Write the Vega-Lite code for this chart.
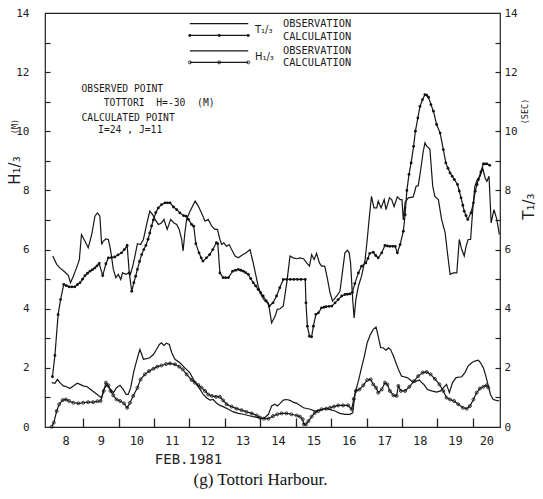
{
  "$schema": "https://vega.github.io/schema/vega-lite/v6.json",
  "width": 455,
  "height": 414,
  "autosize": {"type": "none"},
  "padding": {"left": 45, "top": 13, "right": 43, "bottom": 72},
  "background": "white",
  "view": {"stroke": "#222", "strokeWidth": 1.2},
  "config": {
    "axis": {"labelFont": "DejaVu Sans Mono", "labelColor": "#222", "tickColor": "#222", "titleColor": "#222", "grid": false, "domain": false, "titleFontWeight": "normal"}
  },
  "title": {"text": "(g) Tottori Harbour.", "orient": "bottom", "anchor": "middle", "frame": "group", "dx": -12, "offset": 6, "font": "Liberation Serif", "fontSize": 17, "fontWeight": "normal", "color": "#111"},
  "datasets": {
    "main": [
      {"s":"Tobs","d":8.14,"v":5.78},{"s":"Tobs","d":8.25,"v":5.5},{"s":"Tobs","d":8.34,"v":5.38},{"s":"Tobs","d":8.48,"v":5.24},{"s":"Tobs","d":8.58,"v":5.12},{"s":"Tobs","d":8.64,"v":4.88},{"s":"Tobs","d":8.72,"v":5.1},{"s":"Tobs","d":8.81,"v":5.38},{"s":"Tobs","d":8.89,"v":5.66},{"s":"Tobs","d":8.95,"v":6.51},{"s":"Tobs","d":9.05,"v":6.28},{"s":"Tobs","d":9.14,"v":6.06},{"s":"Tobs","d":9.24,"v":6.51},{"s":"Tobs","d":9.33,"v":7.13},{"s":"Tobs","d":9.4,"v":7.24},{"s":"Tobs","d":9.47,"v":7.13},{"s":"Tobs","d":9.52,"v":6.17},{"s":"Tobs","d":9.56,"v":6.28},{"s":"Tobs","d":9.64,"v":6.36},{"s":"Tobs","d":9.71,"v":6.34},{"s":"Tobs","d":9.77,"v":6.0},{"s":"Tobs","d":9.85,"v":5.33},{"s":"Tobs","d":9.92,"v":5.05},{"s":"Tobs","d":9.99,"v":5.16},{"s":"Tobs","d":10.06,"v":4.99},{"s":"Tobs","d":10.11,"v":5.21},{"s":"Tobs","d":10.21,"v":5.16},{"s":"Tobs","d":10.27,"v":5.21},{"s":"Tobs","d":10.33,"v":5.15},{"s":"Tobs","d":10.4,"v":5.45},{"s":"Tobs","d":10.46,"v":5.78},{"s":"Tobs","d":10.53,"v":6.2},{"s":"Tobs","d":10.62,"v":6.17},{"s":"Tobs","d":10.7,"v":6.35},{"s":"Tobs","d":10.8,"v":6.9},{"s":"Tobs","d":10.88,"v":7.3},{"s":"Tobs","d":10.96,"v":7.18},{"s":"Tobs","d":11.03,"v":7.02},{"s":"Tobs","d":11.12,"v":6.85},{"s":"Tobs","d":11.21,"v":6.9},{"s":"Tobs","d":11.28,"v":7.02},{"s":"Tobs","d":11.37,"v":6.68},{"s":"Tobs","d":11.47,"v":7.02},{"s":"Tobs","d":11.56,"v":6.9},{"s":"Tobs","d":11.64,"v":6.85},{"s":"Tobs","d":11.71,"v":6.68},{"s":"Tobs","d":11.78,"v":6.34},{"s":"Tobs","d":11.82,"v":5.95},{"s":"Tobs","d":11.87,"v":6.57},{"s":"Tobs","d":11.92,"v":7.02},{"s":"Tobs","d":12.0,"v":7.25},{"s":"Tobs","d":12.16,"v":7.64},{"s":"Tobs","d":12.25,"v":7.47},{"s":"Tobs","d":12.34,"v":7.24},{"s":"Tobs","d":12.44,"v":6.96},{"s":"Tobs","d":12.53,"v":7.02},{"s":"Tobs","d":12.63,"v":6.79},{"s":"Tobs","d":12.72,"v":6.68},{"s":"Tobs","d":12.79,"v":6.68},{"s":"Tobs","d":12.86,"v":6.34},{"s":"Tobs","d":12.91,"v":6.17},{"s":"Tobs","d":12.97,"v":6.23},{"s":"Tobs","d":13.05,"v":6.11},{"s":"Tobs","d":13.12,"v":6.17},{"s":"Tobs","d":13.19,"v":6.0},{"s":"Tobs","d":13.29,"v":5.78},{"s":"Tobs","d":13.38,"v":5.72},{"s":"Tobs","d":13.47,"v":5.8},{"s":"Tobs","d":13.6,"v":5.89},{"s":"Tobs","d":13.71,"v":6.0},{"s":"Tobs","d":13.8,"v":5.55},{"s":"Tobs","d":13.88,"v":5.1},{"s":"Tobs","d":13.94,"v":4.76},{"s":"Tobs","d":14.04,"v":4.43},{"s":"Tobs","d":14.13,"v":4.26},{"s":"Tobs","d":14.23,"v":4.2},{"s":"Tobs","d":14.32,"v":3.52},{"s":"Tobs","d":14.42,"v":3.75},{"s":"Tobs","d":14.48,"v":3.98},{"s":"Tobs","d":14.56,"v":4.0},{"s":"Tobs","d":14.65,"v":4.09},{"s":"Tobs","d":14.75,"v":4.9},{"s":"Tobs","d":14.84,"v":5.78},{"s":"Tobs","d":14.93,"v":5.72},{"s":"Tobs","d":15.03,"v":5.69},{"s":"Tobs","d":15.12,"v":5.72},{"s":"Tobs","d":15.22,"v":5.69},{"s":"Tobs","d":15.31,"v":5.55},{"s":"Tobs","d":15.39,"v":5.44},{"s":"Tobs","d":15.45,"v":5.83},{"s":"Tobs","d":15.52,"v":5.66},{"s":"Tobs","d":15.59,"v":5.87},{"s":"Tobs","d":15.67,"v":5.55},{"s":"Tobs","d":15.73,"v":5.44},{"s":"Tobs","d":15.82,"v":5.44},{"s":"Tobs","d":15.89,"v":5.05},{"s":"Tobs","d":15.97,"v":4.54},{"s":"Tobs","d":16.04,"v":4.26},{"s":"Tobs","d":16.16,"v":4.43},{"s":"Tobs","d":16.25,"v":4.59},{"s":"Tobs","d":16.33,"v":5.33},{"s":"Tobs","d":16.39,"v":5.89},{"s":"Tobs","d":16.46,"v":5.98},{"s":"Tobs","d":16.51,"v":5.89},{"s":"Tobs","d":16.55,"v":5.55},{"s":"Tobs","d":16.61,"v":4.31},{"s":"Tobs","d":16.65,"v":3.69},{"s":"Tobs","d":16.7,"v":4.31},{"s":"Tobs","d":16.77,"v":4.76},{"s":"Tobs","d":16.86,"v":5.1},{"s":"Tobs","d":16.96,"v":5.66},{"s":"Tobs","d":17.02,"v":6.34},{"s":"Tobs","d":17.08,"v":7.1},{"s":"Tobs","d":17.14,"v":7.8},{"s":"Tobs","d":17.21,"v":7.41},{"s":"Tobs","d":17.29,"v":7.41},{"s":"Tobs","d":17.33,"v":7.64},{"s":"Tobs","d":17.41,"v":7.41},{"s":"Tobs","d":17.5,"v":7.69},{"s":"Tobs","d":17.55,"v":7.35},{"s":"Tobs","d":17.65,"v":7.75},{"s":"Tobs","d":17.71,"v":7.69},{"s":"Tobs","d":17.78,"v":7.45},{"s":"Tobs","d":17.87,"v":7.78},{"s":"Tobs","d":17.95,"v":7.69},{"s":"Tobs","d":18.0,"v":7.69},{"s":"Tobs","d":18.04,"v":7.0},{"s":"Tobs","d":18.09,"v":7.6},{"s":"Tobs","d":18.18,"v":7.75},{"s":"Tobs","d":18.32,"v":7.78},{"s":"Tobs","d":18.4,"v":8.14},{"s":"Tobs","d":18.46,"v":8.16},{"s":"Tobs","d":18.53,"v":8.7},{"s":"Tobs","d":18.6,"v":9.3},{"s":"Tobs","d":18.65,"v":9.61},{"s":"Tobs","d":18.7,"v":9.5},{"s":"Tobs","d":18.79,"v":9.4},{"s":"Tobs","d":18.87,"v":8.14},{"s":"Tobs","d":18.93,"v":7.8},{"s":"Tobs","d":19.03,"v":7.69},{"s":"Tobs","d":19.12,"v":7.02},{"s":"Tobs","d":19.22,"v":6.57},{"s":"Tobs","d":19.28,"v":5.95},{"s":"Tobs","d":19.36,"v":5.16},{"s":"Tobs","d":19.45,"v":5.21},{"s":"Tobs","d":19.55,"v":5.21},{"s":"Tobs","d":19.62,"v":6.34},{"s":"Tobs","d":19.69,"v":6.0},{"s":"Tobs","d":19.76,"v":5.78},{"s":"Tobs","d":19.81,"v":6.11},{"s":"Tobs","d":19.87,"v":6.34},{"s":"Tobs","d":19.94,"v":6.34},{"s":"Tobs","d":20.0,"v":7.35},{"s":"Tobs","d":20.06,"v":8.14},{"s":"Tobs","d":20.13,"v":8.37},{"s":"Tobs","d":20.21,"v":8.48},{"s":"Tobs","d":20.28,"v":8.76},{"s":"Tobs","d":20.35,"v":8.42},{"s":"Tobs","d":20.4,"v":8.31},{"s":"Tobs","d":20.46,"v":8.48},{"s":"Tobs","d":20.52,"v":6.9},{"s":"Tobs","d":20.6,"v":7.35},{"s":"Tobs","d":20.68,"v":7.02},{"s":"Tobs","d":20.75,"v":6.51},
      {"s":"Tcalc","d":8.13,"v":1.7},{"s":"Tcalc","d":8.2,"v":2.42},{"s":"Tcalc","d":8.29,"v":3.8},{"s":"Tcalc","d":8.36,"v":4.31},{"s":"Tcalc","d":8.45,"v":4.82},{"s":"Tcalc","d":8.52,"v":4.78},{"s":"Tcalc","d":8.6,"v":4.74},{"s":"Tcalc","d":8.68,"v":4.74},{"s":"Tcalc","d":8.76,"v":4.74},{"s":"Tcalc","d":8.84,"v":4.82},{"s":"Tcalc","d":8.91,"v":4.88},{"s":"Tcalc","d":8.98,"v":5.0},{"s":"Tcalc","d":9.05,"v":5.12},{"s":"Tcalc","d":9.12,"v":5.2},{"s":"Tcalc","d":9.19,"v":5.27},{"s":"Tcalc","d":9.26,"v":5.32},{"s":"Tcalc","d":9.33,"v":5.38},{"s":"Tcalc","d":9.39,"v":5.45},{"s":"Tcalc","d":9.45,"v":5.53},{"s":"Tcalc","d":9.55,"v":5.12},{"s":"Tcalc","d":9.64,"v":5.52},{"s":"Tcalc","d":9.71,"v":5.72},{"s":"Tcalc","d":9.8,"v":5.73},{"s":"Tcalc","d":9.89,"v":5.75},{"s":"Tcalc","d":9.98,"v":5.82},{"s":"Tcalc","d":10.08,"v":5.89},{"s":"Tcalc","d":10.16,"v":6.0},{"s":"Tcalc","d":10.24,"v":6.14},{"s":"Tcalc","d":10.3,"v":5.21},{"s":"Tcalc","d":10.37,"v":4.59},{"s":"Tcalc","d":10.43,"v":4.88},{"s":"Tcalc","d":10.48,"v":5.1},{"s":"Tcalc","d":10.53,"v":5.33},{"s":"Tcalc","d":10.59,"v":5.6},{"s":"Tcalc","d":10.65,"v":5.83},{"s":"Tcalc","d":10.71,"v":6.0},{"s":"Tcalc","d":10.77,"v":6.14},{"s":"Tcalc","d":10.83,"v":6.35},{"s":"Tcalc","d":10.88,"v":6.56},{"s":"Tcalc","d":10.93,"v":6.8},{"s":"Tcalc","d":10.98,"v":7.0},{"s":"Tcalc","d":11.05,"v":7.25},{"s":"Tcalc","d":11.12,"v":7.41},{"s":"Tcalc","d":11.21,"v":7.52},{"s":"Tcalc","d":11.31,"v":7.58},{"s":"Tcalc","d":11.38,"v":7.58},{"s":"Tcalc","d":11.45,"v":7.58},{"s":"Tcalc","d":11.55,"v":7.44},{"s":"Tcalc","d":11.64,"v":7.35},{"s":"Tcalc","d":11.73,"v":7.24},{"s":"Tcalc","d":11.83,"v":7.15},{"s":"Tcalc","d":11.9,"v":7.13},{"s":"Tcalc","d":11.97,"v":7.02},{"s":"Tcalc","d":12.06,"v":6.85},{"s":"Tcalc","d":12.12,"v":6.79},{"s":"Tcalc","d":12.18,"v":6.2},{"s":"Tcalc","d":12.27,"v":5.89},{"s":"Tcalc","d":12.33,"v":5.72},{"s":"Tcalc","d":12.38,"v":5.61},{"s":"Tcalc","d":12.48,"v":5.72},{"s":"Tcalc","d":12.57,"v":5.83},{"s":"Tcalc","d":12.66,"v":6.0},{"s":"Tcalc","d":12.76,"v":6.23},{"s":"Tcalc","d":12.8,"v":6.2},{"s":"Tcalc","d":12.86,"v":5.21},{"s":"Tcalc","d":12.95,"v":5.05},{"s":"Tcalc","d":13.02,"v":5.05},{"s":"Tcalc","d":13.1,"v":5.05},{"s":"Tcalc","d":13.22,"v":5.27},{"s":"Tcalc","d":13.3,"v":5.3},{"s":"Tcalc","d":13.38,"v":5.33},{"s":"Tcalc","d":13.45,"v":5.3},{"s":"Tcalc","d":13.52,"v":5.27},{"s":"Tcalc","d":13.59,"v":5.22},{"s":"Tcalc","d":13.66,"v":5.16},{"s":"Tcalc","d":13.73,"v":5.02},{"s":"Tcalc","d":13.8,"v":4.88},{"s":"Tcalc","d":13.87,"v":4.77},{"s":"Tcalc","d":13.94,"v":4.65},{"s":"Tcalc","d":14.01,"v":4.54},{"s":"Tcalc","d":14.08,"v":4.43},{"s":"Tcalc","d":14.17,"v":4.26},{"s":"Tcalc","d":14.25,"v":4.09},{"s":"Tcalc","d":14.36,"v":4.2},{"s":"Tcalc","d":14.46,"v":4.43},{"s":"Tcalc","d":14.55,"v":4.71},{"s":"Tcalc","d":14.65,"v":4.99},{"s":"Tcalc","d":14.75,"v":4.99},{"s":"Tcalc","d":14.85,"v":4.99},{"s":"Tcalc","d":14.95,"v":4.99},{"s":"Tcalc","d":15.05,"v":4.99},{"s":"Tcalc","d":15.15,"v":4.99},{"s":"Tcalc","d":15.27,"v":4.99},{"s":"Tcalc","d":15.29,"v":4.2},{"s":"Tcalc","d":15.33,"v":3.41},{"s":"Tcalc","d":15.39,"v":3.07},{"s":"Tcalc","d":15.45,"v":3.05},{"s":"Tcalc","d":15.5,"v":3.41},{"s":"Tcalc","d":15.57,"v":3.81},{"s":"Tcalc","d":15.64,"v":3.86},{"s":"Tcalc","d":15.73,"v":4.03},{"s":"Tcalc","d":15.8,"v":4.05},{"s":"Tcalc","d":15.86,"v":4.07},{"s":"Tcalc","d":15.94,"v":4.08},{"s":"Tcalc","d":16.02,"v":4.09},{"s":"Tcalc","d":16.11,"v":4.2},{"s":"Tcalc","d":16.2,"v":4.31},{"s":"Tcalc","d":16.3,"v":4.43},{"s":"Tcalc","d":16.39,"v":4.48},{"s":"Tcalc","d":16.46,"v":4.49},{"s":"Tcalc","d":16.53,"v":4.5},{"s":"Tcalc","d":16.6,"v":4.55},{"s":"Tcalc","d":16.67,"v":4.85},{"s":"Tcalc","d":16.77,"v":5.21},{"s":"Tcalc","d":16.86,"v":5.44},{"s":"Tcalc","d":16.98,"v":5.55},{"s":"Tcalc","d":17.04,"v":5.7},{"s":"Tcalc","d":17.09,"v":5.87},{"s":"Tcalc","d":17.19,"v":5.91},{"s":"Tcalc","d":17.26,"v":5.8},{"s":"Tcalc","d":17.33,"v":5.72},{"s":"Tcalc","d":17.43,"v":5.89},{"s":"Tcalc","d":17.52,"v":6.14},{"s":"Tcalc","d":17.59,"v":6.12},{"s":"Tcalc","d":17.66,"v":6.11},{"s":"Tcalc","d":17.74,"v":6.11},{"s":"Tcalc","d":17.81,"v":6.11},{"s":"Tcalc","d":17.87,"v":5.89},{"s":"Tcalc","d":17.95,"v":6.17},{"s":"Tcalc","d":18.04,"v":6.62},{"s":"Tcalc","d":18.09,"v":7.18},{"s":"Tcalc","d":18.14,"v":8.0},{"s":"Tcalc","d":18.2,"v":8.54},{"s":"Tcalc","d":18.26,"v":8.93},{"s":"Tcalc","d":18.33,"v":9.49},{"s":"Tcalc","d":18.38,"v":10.0},{"s":"Tcalc","d":18.45,"v":10.45},{"s":"Tcalc","d":18.51,"v":10.84},{"s":"Tcalc","d":18.58,"v":11.07},{"s":"Tcalc","d":18.65,"v":11.24},{"s":"Tcalc","d":18.7,"v":11.22},{"s":"Tcalc","d":18.75,"v":11.15},{"s":"Tcalc","d":18.82,"v":10.9},{"s":"Tcalc","d":18.89,"v":10.68},{"s":"Tcalc","d":18.98,"v":10.23},{"s":"Tcalc","d":19.08,"v":9.94},{"s":"Tcalc","d":19.17,"v":9.38},{"s":"Tcalc","d":19.24,"v":8.93},{"s":"Tcalc","d":19.3,"v":8.75},{"s":"Tcalc","d":19.36,"v":8.59},{"s":"Tcalc","d":19.42,"v":8.48},{"s":"Tcalc","d":19.48,"v":8.37},{"s":"Tcalc","d":19.57,"v":8.2},{"s":"Tcalc","d":19.62,"v":7.98},{"s":"Tcalc","d":19.67,"v":7.75},{"s":"Tcalc","d":19.72,"v":7.5},{"s":"Tcalc","d":19.76,"v":7.3},{"s":"Tcalc","d":19.81,"v":7.15},{"s":"Tcalc","d":19.86,"v":7.02},{"s":"Tcalc","d":19.95,"v":7.24},{"s":"Tcalc","d":20.02,"v":7.58},{"s":"Tcalc","d":20.07,"v":7.97},{"s":"Tcalc","d":20.12,"v":8.2},{"s":"Tcalc","d":20.16,"v":8.37},{"s":"Tcalc","d":20.23,"v":8.63},{"s":"Tcalc","d":20.3,"v":8.9},{"s":"Tcalc","d":20.35,"v":8.9},{"s":"Tcalc","d":20.4,"v":8.9},{"s":"Tcalc","d":20.48,"v":8.85},
      {"s":"Hobs","d":8.11,"v":1.5},{"s":"Hobs","d":8.2,"v":1.48},{"s":"Hobs","d":8.27,"v":1.61},{"s":"Hobs","d":8.34,"v":1.5},{"s":"Hobs","d":8.44,"v":1.39},{"s":"Hobs","d":8.53,"v":1.36},{"s":"Hobs","d":8.62,"v":1.3},{"s":"Hobs","d":8.72,"v":1.39},{"s":"Hobs","d":8.83,"v":1.48},{"s":"Hobs","d":8.91,"v":1.44},{"s":"Hobs","d":9.0,"v":1.39},{"s":"Hobs","d":9.11,"v":1.36},{"s":"Hobs","d":9.21,"v":1.27},{"s":"Hobs","d":9.33,"v":1.16},{"s":"Hobs","d":9.45,"v":1.05},{"s":"Hobs","d":9.52,"v":0.99},{"s":"Hobs","d":9.58,"v":1.27},{"s":"Hobs","d":9.66,"v":1.41},{"s":"Hobs","d":9.75,"v":1.3},{"s":"Hobs","d":9.85,"v":1.16},{"s":"Hobs","d":9.94,"v":1.33},{"s":"Hobs","d":10.04,"v":1.41},{"s":"Hobs","d":10.13,"v":1.27},{"s":"Hobs","d":10.21,"v":1.1},{"s":"Hobs","d":10.27,"v":1.1},{"s":"Hobs","d":10.34,"v":1.33},{"s":"Hobs","d":10.43,"v":1.89},{"s":"Hobs","d":10.53,"v":2.34},{"s":"Hobs","d":10.6,"v":2.62},{"s":"Hobs","d":10.7,"v":2.29},{"s":"Hobs","d":10.79,"v":2.31},{"s":"Hobs","d":10.88,"v":2.34},{"s":"Hobs","d":10.98,"v":2.45},{"s":"Hobs","d":11.07,"v":2.62},{"s":"Hobs","d":11.15,"v":2.79},{"s":"Hobs","d":11.21,"v":2.85},{"s":"Hobs","d":11.28,"v":2.76},{"s":"Hobs","d":11.35,"v":2.83},{"s":"Hobs","d":11.43,"v":2.79},{"s":"Hobs","d":11.5,"v":2.51},{"s":"Hobs","d":11.59,"v":2.29},{"s":"Hobs","d":11.73,"v":2.17},{"s":"Hobs","d":11.87,"v":2.0},{"s":"Hobs","d":12.01,"v":1.84},{"s":"Hobs","d":12.11,"v":1.61},{"s":"Hobs","d":12.2,"v":1.44},{"s":"Hobs","d":12.3,"v":1.27},{"s":"Hobs","d":12.39,"v":1.1},{"s":"Hobs","d":12.48,"v":0.99},{"s":"Hobs","d":12.58,"v":0.91},{"s":"Hobs","d":12.67,"v":0.93},{"s":"Hobs","d":12.77,"v":0.8},{"s":"Hobs","d":12.86,"v":0.73},{"s":"Hobs","d":12.95,"v":0.69},{"s":"Hobs","d":13.1,"v":0.6},{"s":"Hobs","d":13.24,"v":0.51},{"s":"Hobs","d":13.38,"v":0.46},{"s":"Hobs","d":13.52,"v":0.43},{"s":"Hobs","d":13.66,"v":0.39},{"s":"Hobs","d":13.8,"v":0.35},{"s":"Hobs","d":13.94,"v":0.32},{"s":"Hobs","d":14.04,"v":0.28},{"s":"Hobs","d":14.13,"v":0.32},{"s":"Hobs","d":14.23,"v":0.43},{"s":"Hobs","d":14.32,"v":0.71},{"s":"Hobs","d":14.41,"v":0.77},{"s":"Hobs","d":14.48,"v":0.71},{"s":"Hobs","d":14.56,"v":0.8},{"s":"Hobs","d":14.65,"v":0.91},{"s":"Hobs","d":14.74,"v":0.93},{"s":"Hobs","d":14.84,"v":0.9},{"s":"Hobs","d":14.93,"v":0.84},{"s":"Hobs","d":15.03,"v":0.8},{"s":"Hobs","d":15.22,"v":0.65},{"s":"Hobs","d":15.41,"v":0.6},{"s":"Hobs","d":15.54,"v":0.54},{"s":"Hobs","d":15.69,"v":0.57},{"s":"Hobs","d":15.85,"v":0.62},{"s":"Hobs","d":16.0,"v":0.58},{"s":"Hobs","d":16.11,"v":0.54},{"s":"Hobs","d":16.25,"v":0.46},{"s":"Hobs","d":16.39,"v":0.43},{"s":"Hobs","d":16.53,"v":0.43},{"s":"Hobs","d":16.61,"v":0.48},{"s":"Hobs","d":16.68,"v":1.16},{"s":"Hobs","d":16.77,"v":1.55},{"s":"Hobs","d":16.87,"v":2.06},{"s":"Hobs","d":16.94,"v":2.4},{"s":"Hobs","d":17.02,"v":2.85},{"s":"Hobs","d":17.1,"v":3.1},{"s":"Hobs","d":17.19,"v":3.3},{"s":"Hobs","d":17.27,"v":3.38},{"s":"Hobs","d":17.33,"v":3.07},{"s":"Hobs","d":17.4,"v":2.68},{"s":"Hobs","d":17.47,"v":2.68},{"s":"Hobs","d":17.55,"v":2.6},{"s":"Hobs","d":17.62,"v":2.68},{"s":"Hobs","d":17.68,"v":2.62},{"s":"Hobs","d":17.76,"v":2.4},{"s":"Hobs","d":17.83,"v":2.17},{"s":"Hobs","d":17.9,"v":1.95},{"s":"Hobs","d":17.99,"v":1.72},{"s":"Hobs","d":18.06,"v":1.7},{"s":"Hobs","d":18.15,"v":1.67},{"s":"Hobs","d":18.24,"v":1.59},{"s":"Hobs","d":18.32,"v":1.5},{"s":"Hobs","d":18.41,"v":1.55},{"s":"Hobs","d":18.49,"v":1.59},{"s":"Hobs","d":18.56,"v":1.5},{"s":"Hobs","d":18.62,"v":1.44},{"s":"Hobs","d":18.72,"v":1.27},{"s":"Hobs","d":18.84,"v":1.22},{"s":"Hobs","d":18.98,"v":1.18},{"s":"Hobs","d":19.09,"v":1.22},{"s":"Hobs","d":19.26,"v":1.44},{"s":"Hobs","d":19.34,"v":1.16},{"s":"Hobs","d":19.43,"v":1.5},{"s":"Hobs","d":19.53,"v":1.67},{"s":"Hobs","d":19.69,"v":1.7},{"s":"Hobs","d":19.78,"v":1.84},{"s":"Hobs","d":19.87,"v":2.06},{"s":"Hobs","d":19.97,"v":2.17},{"s":"Hobs","d":20.06,"v":2.23},{"s":"Hobs","d":20.16,"v":2.26},{"s":"Hobs","d":20.22,"v":2.17},{"s":"Hobs","d":20.3,"v":2.0},{"s":"Hobs","d":20.37,"v":1.72},{"s":"Hobs","d":20.44,"v":1.39},{"s":"Hobs","d":20.5,"v":1.1},{"s":"Hobs","d":20.58,"v":0.93},{"s":"Hobs","d":20.67,"v":0.9},{"s":"Hobs","d":20.75,"v":0.88},
      {"s":"Hcalc","d":8.11,"v":0.01},{"s":"Hcalc","d":8.17,"v":0.15},{"s":"Hcalc","d":8.25,"v":0.54},{"s":"Hcalc","d":8.32,"v":0.77},{"s":"Hcalc","d":8.42,"v":0.91},{"s":"Hcalc","d":8.51,"v":0.93},{"s":"Hcalc","d":8.6,"v":0.88},{"s":"Hcalc","d":8.72,"v":0.82},{"s":"Hcalc","d":8.86,"v":0.8},{"s":"Hcalc","d":9.0,"v":0.82},{"s":"Hcalc","d":9.14,"v":0.84},{"s":"Hcalc","d":9.28,"v":0.84},{"s":"Hcalc","d":9.4,"v":0.87},{"s":"Hcalc","d":9.49,"v":0.88},{"s":"Hcalc","d":9.58,"v":1.22},{"s":"Hcalc","d":9.64,"v":1.5},{"s":"Hcalc","d":9.71,"v":1.41},{"s":"Hcalc","d":9.77,"v":1.22},{"s":"Hcalc","d":9.85,"v":1.07},{"s":"Hcalc","d":9.94,"v":0.93},{"s":"Hcalc","d":10.04,"v":0.88},{"s":"Hcalc","d":10.15,"v":0.8},{"s":"Hcalc","d":10.24,"v":0.65},{"s":"Hcalc","d":10.32,"v":0.82},{"s":"Hcalc","d":10.41,"v":1.05},{"s":"Hcalc","d":10.53,"v":1.33},{"s":"Hcalc","d":10.62,"v":1.61},{"s":"Hcalc","d":10.74,"v":1.78},{"s":"Hcalc","d":10.86,"v":1.89},{"s":"Hcalc","d":10.98,"v":1.97},{"s":"Hcalc","d":11.09,"v":2.04},{"s":"Hcalc","d":11.21,"v":2.08},{"s":"Hcalc","d":11.34,"v":2.13},{"s":"Hcalc","d":11.45,"v":2.15},{"s":"Hcalc","d":11.59,"v":2.12},{"s":"Hcalc","d":11.71,"v":2.04},{"s":"Hcalc","d":11.81,"v":1.95},{"s":"Hcalc","d":11.92,"v":1.78},{"s":"Hcalc","d":12.06,"v":1.59},{"s":"Hcalc","d":12.15,"v":1.5},{"s":"Hcalc","d":12.25,"v":1.42},{"s":"Hcalc","d":12.34,"v":1.33},{"s":"Hcalc","d":12.44,"v":1.22},{"s":"Hcalc","d":12.53,"v":1.1},{"s":"Hcalc","d":12.63,"v":1.05},{"s":"Hcalc","d":12.75,"v":1.02},{"s":"Hcalc","d":12.86,"v":1.02},{"s":"Hcalc","d":12.95,"v":0.9},{"s":"Hcalc","d":13.05,"v":0.77},{"s":"Hcalc","d":13.19,"v":0.69},{"s":"Hcalc","d":13.33,"v":0.62},{"s":"Hcalc","d":13.47,"v":0.57},{"s":"Hcalc","d":13.61,"v":0.51},{"s":"Hcalc","d":13.76,"v":0.46},{"s":"Hcalc","d":13.9,"v":0.39},{"s":"Hcalc","d":13.99,"v":0.32},{"s":"Hcalc","d":14.1,"v":0.28},{"s":"Hcalc","d":14.23,"v":0.28},{"s":"Hcalc","d":14.36,"v":0.37},{"s":"Hcalc","d":14.48,"v":0.43},{"s":"Hcalc","d":14.6,"v":0.46},{"s":"Hcalc","d":14.74,"v":0.46},{"s":"Hcalc","d":14.88,"v":0.43},{"s":"Hcalc","d":15.03,"v":0.39},{"s":"Hcalc","d":15.12,"v":0.35},{"s":"Hcalc","d":15.2,"v":0.26},{"s":"Hcalc","d":15.23,"v":0.09},{"s":"Hcalc","d":15.29,"v":0.09},{"s":"Hcalc","d":15.36,"v":0.2},{"s":"Hcalc","d":15.45,"v":0.35},{"s":"Hcalc","d":15.54,"v":0.48},{"s":"Hcalc","d":15.64,"v":0.54},{"s":"Hcalc","d":15.73,"v":0.6},{"s":"Hcalc","d":15.86,"v":0.62},{"s":"Hcalc","d":15.97,"v":0.65},{"s":"Hcalc","d":16.08,"v":0.69},{"s":"Hcalc","d":16.2,"v":0.73},{"s":"Hcalc","d":16.34,"v":0.73},{"s":"Hcalc","d":16.48,"v":0.73},{"s":"Hcalc","d":16.58,"v":0.6},{"s":"Hcalc","d":16.64,"v":0.95},{"s":"Hcalc","d":16.7,"v":1.22},{"s":"Hcalc","d":16.8,"v":1.27},{"s":"Hcalc","d":16.91,"v":1.41},{"s":"Hcalc","d":17.02,"v":1.59},{"s":"Hcalc","d":17.12,"v":1.61},{"s":"Hcalc","d":17.19,"v":1.44},{"s":"Hcalc","d":17.27,"v":1.33},{"s":"Hcalc","d":17.33,"v":1.16},{"s":"Hcalc","d":17.43,"v":1.27},{"s":"Hcalc","d":17.52,"v":1.5},{"s":"Hcalc","d":17.59,"v":1.44},{"s":"Hcalc","d":17.66,"v":1.22},{"s":"Hcalc","d":17.76,"v":1.07},{"s":"Hcalc","d":17.85,"v":1.05},{"s":"Hcalc","d":17.9,"v":1.39},{"s":"Hcalc","d":17.97,"v":1.22},{"s":"Hcalc","d":18.09,"v":1.22},{"s":"Hcalc","d":18.21,"v":1.36},{"s":"Hcalc","d":18.34,"v":1.55},{"s":"Hcalc","d":18.46,"v":1.72},{"s":"Hcalc","d":18.59,"v":1.84},{"s":"Hcalc","d":18.7,"v":1.86},{"s":"Hcalc","d":18.81,"v":1.78},{"s":"Hcalc","d":18.93,"v":1.63},{"s":"Hcalc","d":19.06,"v":1.44},{"s":"Hcalc","d":19.17,"v":1.22},{"s":"Hcalc","d":19.26,"v":0.99},{"s":"Hcalc","d":19.36,"v":0.93},{"s":"Hcalc","d":19.47,"v":0.88},{"s":"Hcalc","d":19.59,"v":0.77},{"s":"Hcalc","d":19.72,"v":0.65},{"s":"Hcalc","d":19.83,"v":0.62},{"s":"Hcalc","d":19.92,"v":0.71},{"s":"Hcalc","d":20.02,"v":0.93},{"s":"Hcalc","d":20.11,"v":1.16},{"s":"Hcalc","d":20.2,"v":1.3},{"s":"Hcalc","d":20.3,"v":1.36},{"s":"Hcalc","d":20.39,"v":1.41},{"s":"Hcalc","d":20.44,"v":1.33},
      {"s":"legTobs","d":12.01,"v":13.64},{"s":"legTobs","d":13.66,"v":13.64},
      {"s":"legTcalc","d":12.01,"v":13.24},{"s":"legTcalc","d":12.84,"v":13.24},{"s":"legTcalc","d":13.66,"v":13.24},
      {"s":"legHobs","d":12.01,"v":12.72},{"s":"legHobs","d":13.66,"v":12.72},
      {"s":"legHcalc","d":12.01,"v":12.33},{"s":"legHcalc","d":12.84,"v":12.33},{"s":"legHcalc","d":13.66,"v":12.33}
    ]
  },
  "resolve": {"scale": {"x": "shared", "y": "shared"}, "axis": {"x": "independent", "y": "independent"}},
  "layer": [
    {
      "data": {"name": "main"},
      "mark": {"type": "line", "color": "#161616", "strokeWidth": 1.2},
      "encoding": {
        "x": {"field": "d", "type": "quantitative", "scale": {"domain": [7.92, 20.77], "nice": false, "zero": false},
          "axis": {"orient": "bottom", "values": [9,10,11,12,13,14,15,16,17,18,19,20],
            "offset": -9, "tickSize": 9, "tickWidth": 1.3, "labels": false, "title": null}},
        "y": {"field": "v", "type": "quantitative", "scale": {"domain": [0, 14], "nice": false, "zero": true},
          "axis": {"orient": "left", "values": [0,2,4,6,8,10,12,14], "ticks": false,
            "labelFontSize": 11, "labelPadding": 16,
            "title": "H₁/₃", "titleFont": "DejaVu Sans", "titleFontSize": 15, "titleAngle": 270, "titleX": -31, "titleY": 157, "titleAlign": "center", "titleBaseline": "middle"}},
        "detail": {"field": "s"}
      }
    },
    {
      "data": {"name": "main"},
      "transform": [{"filter": {"field": "s", "oneOf": ["Tcalc", "legTcalc"]}}],
      "mark": {"type": "point", "shape": "circle", "filled": true, "size": 8, "color": "#111", "opacity": 1},
      "encoding": {
        "x": {"field": "d", "type": "quantitative",
          "axis": {"orient": "bottom", "values": [8.5,9.5,10.5,11.5,12.5,13.5,14.5,15.5,16.5,17.5,18.5,19.5,20.385],
            "ticks": false, "labelExpr": "format(floor(datum.value), 'd')", "labelFontSize": 12, "labelPadding": 8, "labelFlush": false,
            "title": "FEB.1981", "titleFont": "DejaVu Sans Mono", "titleFontSize": 14, "titleX": 143, "titleY": 32, "titleAlign": "center", "titleBaseline": "middle"}},
        "y": {"field": "v", "type": "quantitative",
          "axis": {"orient": "right", "values": [0,2,4,6,8,10,12,14], "ticks": false,
            "labelFontSize": 11, "labelPadding": 4,
            "title": "T₁/₃", "titleFont": "DejaVu Sans", "titleFontSize": 15, "titleAngle": 270, "titleX": 28, "titleY": 193, "titleAlign": "center", "titleBaseline": "middle"}}
      }
    },
    {
      "data": {"name": "main"},
      "transform": [{"filter": {"field": "s", "oneOf": ["Hcalc", "legHcalc"]}}],
      "mark": {"type": "point", "shape": "circle", "filled": false, "size": 9, "color": "#111", "strokeWidth": 0.8, "opacity": 1},
      "encoding": {
        "x": {"field": "d", "type": "quantitative", "axis": null},
        "y": {"field": "v", "type": "quantitative",
          "axis": {"orient": "left", "values": [1,2,3,4,5,6,7,8,9,10,11,12,13], "offset": -5, "tickSize": 5, "tickWidth": 1.2, "labels": false, "title": null}}
      }
    },
    {
      "data": {"values": [
        {"t": "OBSERVED POINT", "d": 8.95, "v": 11.43},
        {"t": "TOTTORI\u00a0\u00a0H=-30\u00a0\u00a0(M)", "d": 9.58, "v": 10.96},
        {"t": "CALCULATED POINT", "d": 8.95, "v": 10.45},
        {"t": "I=24 , J=11", "d": 9.42, "v": 10.03}
      ]},
      "mark": {"type": "text", "font": "DejaVu Sans Mono", "fontSize": 9.7, "align": "left", "baseline": "middle", "color": "#1a1a1a"},
      "encoding": {
        "x": {"field": "d", "type": "quantitative", "axis": null},
        "y": {"field": "v", "type": "quantitative",
          "axis": {"orient": "right", "values": [1,2,3,4,5,6,7,8,9,10,11,12,13], "offset": -5, "tickSize": 5, "tickWidth": 1.2, "labels": false, "title": null}},
        "text": {"field": "t"}
      }
    },
    {
      "data": {"values": [
        {"t": "OBSERVATION", "d": 14.64, "v": 13.62},
        {"t": "CALCULATION", "d": 14.64, "v": 13.2},
        {"t": "OBSERVATION", "d": 14.64, "v": 12.73},
        {"t": "CALCULATION", "d": 14.64, "v": 12.31}
      ]},
      "mark": {"type": "text", "font": "DejaVu Sans Mono", "fontSize": 10.3, "align": "left", "baseline": "middle", "color": "#1a1a1a"},
      "encoding": {
        "x": {"field": "d", "type": "quantitative", "axis": null},
        "y": {"field": "v", "type": "quantitative", "axis": null},
        "text": {"field": "t"}
      }
    },
    {
      "data": {"values": [
        {"t": "T₁/₃", "d": 13.85, "v": 13.43},
        {"t": "H₁/₃", "d": 13.85, "v": 12.52}
      ]},
      "mark": {"type": "text", "font": "DejaVu Sans", "fontSize": 10, "align": "left", "baseline": "middle", "color": "#1a1a1a"},
      "encoding": {
        "x": {"field": "d", "type": "quantitative", "axis": null},
        "y": {"field": "v", "type": "quantitative", "axis": null},
        "text": {"field": "t"}
      }
    },
    {
      "data": {"values": [
        {"t": "(M)", "d": 7.07, "v": 10.16},
        {"t": "(SEC)", "d": 21.48, "v": 10.67}
      ]},
      "mark": {"type": "text", "font": "DejaVu Sans Mono", "fontSize": 8.5, "align": "center", "baseline": "middle", "angle": 270, "color": "#1a1a1a"},
      "encoding": {
        "x": {"field": "d", "type": "quantitative", "axis": null},
        "y": {"field": "v", "type": "quantitative", "axis": null},
        "text": {"field": "t"}
      }
    }
  ]
}
